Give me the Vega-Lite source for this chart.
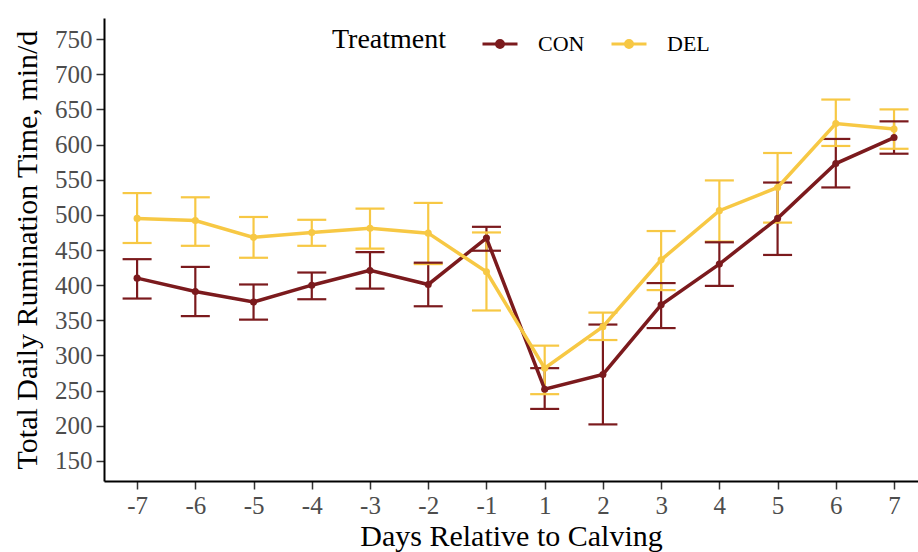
{
  "$schema": "https://vega.github.io/schema/vega-lite/v6.json",
  "autosize": {"type": "none"},
  "padding": {"left": 104, "top": 18, "right": 0, "bottom": 71},
  "width": 814,
  "height": 463,
  "background": "white",
  "config": {
    "view": {"stroke": null},
    "font": "Liberation Serif",
    "axis": {
      "grid": false,
      "domainColor": "black",
      "domainWidth": 2,
      "tickColor": "#333333",
      "tickWidth": 1.5,
      "tickSize": 8,
      "labelFont": "Liberation Serif",
      "labelFontSize": 25,
      "labelColor": "#4D4D4D",
      "labelPadding": 4,
      "labelOverlap": false,
      "titleFont": "Liberation Serif",
      "titleFontSize": 30,
      "titleFontWeight": "normal",
      "titleColor": "black"
    },
    "legend": {
      "padding": 0
    }
  },
  "data": {
    "values": [
      {"day": -7, "trt": "CON", "mean": 410, "lower": 381, "upper": 437},
      {"day": -6, "trt": "CON", "mean": 391, "lower": 356, "upper": 426},
      {"day": -5, "trt": "CON", "mean": 376, "lower": 351, "upper": 401},
      {"day": -4, "trt": "CON", "mean": 400, "lower": 380, "upper": 418},
      {"day": -3, "trt": "CON", "mean": 421, "lower": 395, "upper": 447},
      {"day": -2, "trt": "CON", "mean": 401, "lower": 370, "upper": 432},
      {"day": -1, "trt": "CON", "mean": 467, "lower": 449, "upper": 483},
      {"day": 1, "trt": "CON", "mean": 252, "lower": 224, "upper": 282},
      {"day": 2, "trt": "CON", "mean": 273, "lower": 202, "upper": 344},
      {"day": 3, "trt": "CON", "mean": 372, "lower": 339, "upper": 403},
      {"day": 4, "trt": "CON", "mean": 430, "lower": 399, "upper": 461},
      {"day": 5, "trt": "CON", "mean": 495, "lower": 443, "upper": 546},
      {"day": 6, "trt": "CON", "mean": 573, "lower": 539, "upper": 608},
      {"day": 7, "trt": "CON", "mean": 610, "lower": 587, "upper": 633},
      {"day": -7, "trt": "DEL", "mean": 495, "lower": 460, "upper": 531},
      {"day": -6, "trt": "DEL", "mean": 492, "lower": 456, "upper": 525},
      {"day": -5, "trt": "DEL", "mean": 468, "lower": 439, "upper": 497},
      {"day": -4, "trt": "DEL", "mean": 475, "lower": 456, "upper": 493},
      {"day": -3, "trt": "DEL", "mean": 481, "lower": 452, "upper": 509},
      {"day": -2, "trt": "DEL", "mean": 474, "lower": 430, "upper": 517},
      {"day": -1, "trt": "DEL", "mean": 419, "lower": 364, "upper": 475},
      {"day": 1, "trt": "DEL", "mean": 282, "lower": 245, "upper": 314},
      {"day": 2, "trt": "DEL", "mean": 341, "lower": 322, "upper": 361},
      {"day": 3, "trt": "DEL", "mean": 436, "lower": 393, "upper": 477},
      {"day": 4, "trt": "DEL", "mean": 506, "lower": 462, "upper": 549},
      {"day": 5, "trt": "DEL", "mean": 539, "lower": 489, "upper": 588},
      {"day": 6, "trt": "DEL", "mean": 630, "lower": 598, "upper": 664},
      {"day": 7, "trt": "DEL", "mean": 622, "lower": 594, "upper": 650}
    ]
  },
  "encoding": {
    "x": {
      "field": "day",
      "type": "ordinal",
      "title": "Days Relative to Calving",
      "scale": {"type": "point", "padding": 0.49, "align": 0.58},
      "axis": {"labelAngle": 0, "titlePadding": 3}
    },
    "color": {
      "field": "trt",
      "type": "nominal",
      "scale": {"domain": ["CON", "DEL"], "range": ["#7B1A1D", "#F7C844"]},
      "legend": {
        "title": "Treatment",
        "orient": "none",
        "legendX": 228,
        "legendY": 7,
        "direction": "horizontal",
        "titleOrient": "left",
        "titleFont": "Liberation Serif",
        "titleFontSize": 28,
        "titleFontWeight": "normal",
        "titleColor": "black",
        "titleBaseline": "middle",
        "titlePadding": 34,
        "labelFont": "Liberation Serif",
        "labelFontSize": 22,
        "labelColor": "black",
        "labelOffset": 19,
        "columnPadding": 20,
        "symbolType": "M-1,0L1,0M0.2,0A0.2,0.2,0,1,1,-0.2,0A0.2,0.2,0,1,1,0.2,0Z",
        "symbolSize": 1225,
        "symbolStrokeWidth": 3,
        "symbolOpacity": 1,
        "encode": {
          "symbols": {
            "update": {
              "stroke": {"scale": "color", "field": "value"},
              "fill": {"scale": "color", "field": "value"}
            }
          }
        }
      }
    }
  },
  "layer": [
    {
      "mark": {"type": "rule", "strokeWidth": 2.2},
      "encoding": {
        "y": {
          "field": "lower",
          "type": "quantitative",
          "title": "Total Daily Rumination Time, min/d",
          "scale": {"domain": [121.5, 780], "nice": false, "zero": false},
          "axis": {"values": [150, 200, 250, 300, 350, 400, 450, 500, 550, 600, 650, 700, 750], "titlePadding": 12, "labelOverlap": false}
        },
        "y2": {"field": "upper"}
      }
    },
    {
      "mark": {"type": "tick", "size": 29, "thickness": 2.2, "opacity": 1},
      "encoding": {"y": {
          "field": "lower",
          "type": "quantitative",
          "title": "Total Daily Rumination Time, min/d",
          "axis": {"values": [150, 200, 250, 300, 350, 400, 450, 500, 550, 600, 650, 700, 750], "titlePadding": 12, "labelOverlap": false}
        }}
    },
    {
      "mark": {"type": "tick", "size": 29, "thickness": 2.2, "opacity": 1},
      "encoding": {"y": {
          "field": "upper",
          "type": "quantitative",
          "title": "Total Daily Rumination Time, min/d",
          "axis": {"values": [150, 200, 250, 300, 350, 400, 450, 500, 550, 600, 650, 700, 750], "titlePadding": 12, "labelOverlap": false}
        }}
    },
    {
      "mark": {"type": "line", "strokeWidth": 3.5},
      "encoding": {"y": {
          "field": "mean",
          "type": "quantitative",
          "title": "Total Daily Rumination Time, min/d",
          "axis": {"values": [150, 200, 250, 300, 350, 400, 450, 500, 550, 600, 650, 700, 750], "titlePadding": 12, "labelOverlap": false}
        }}
    },
    {
      "mark": {"type": "point", "filled": true, "size": 50, "opacity": 1},
      "encoding": {"y": {
          "field": "mean",
          "type": "quantitative",
          "title": "Total Daily Rumination Time, min/d",
          "axis": {"values": [150, 200, 250, 300, 350, 400, 450, 500, 550, 600, 650, 700, 750], "titlePadding": 12, "labelOverlap": false}
        }}
    }
  ]
}
